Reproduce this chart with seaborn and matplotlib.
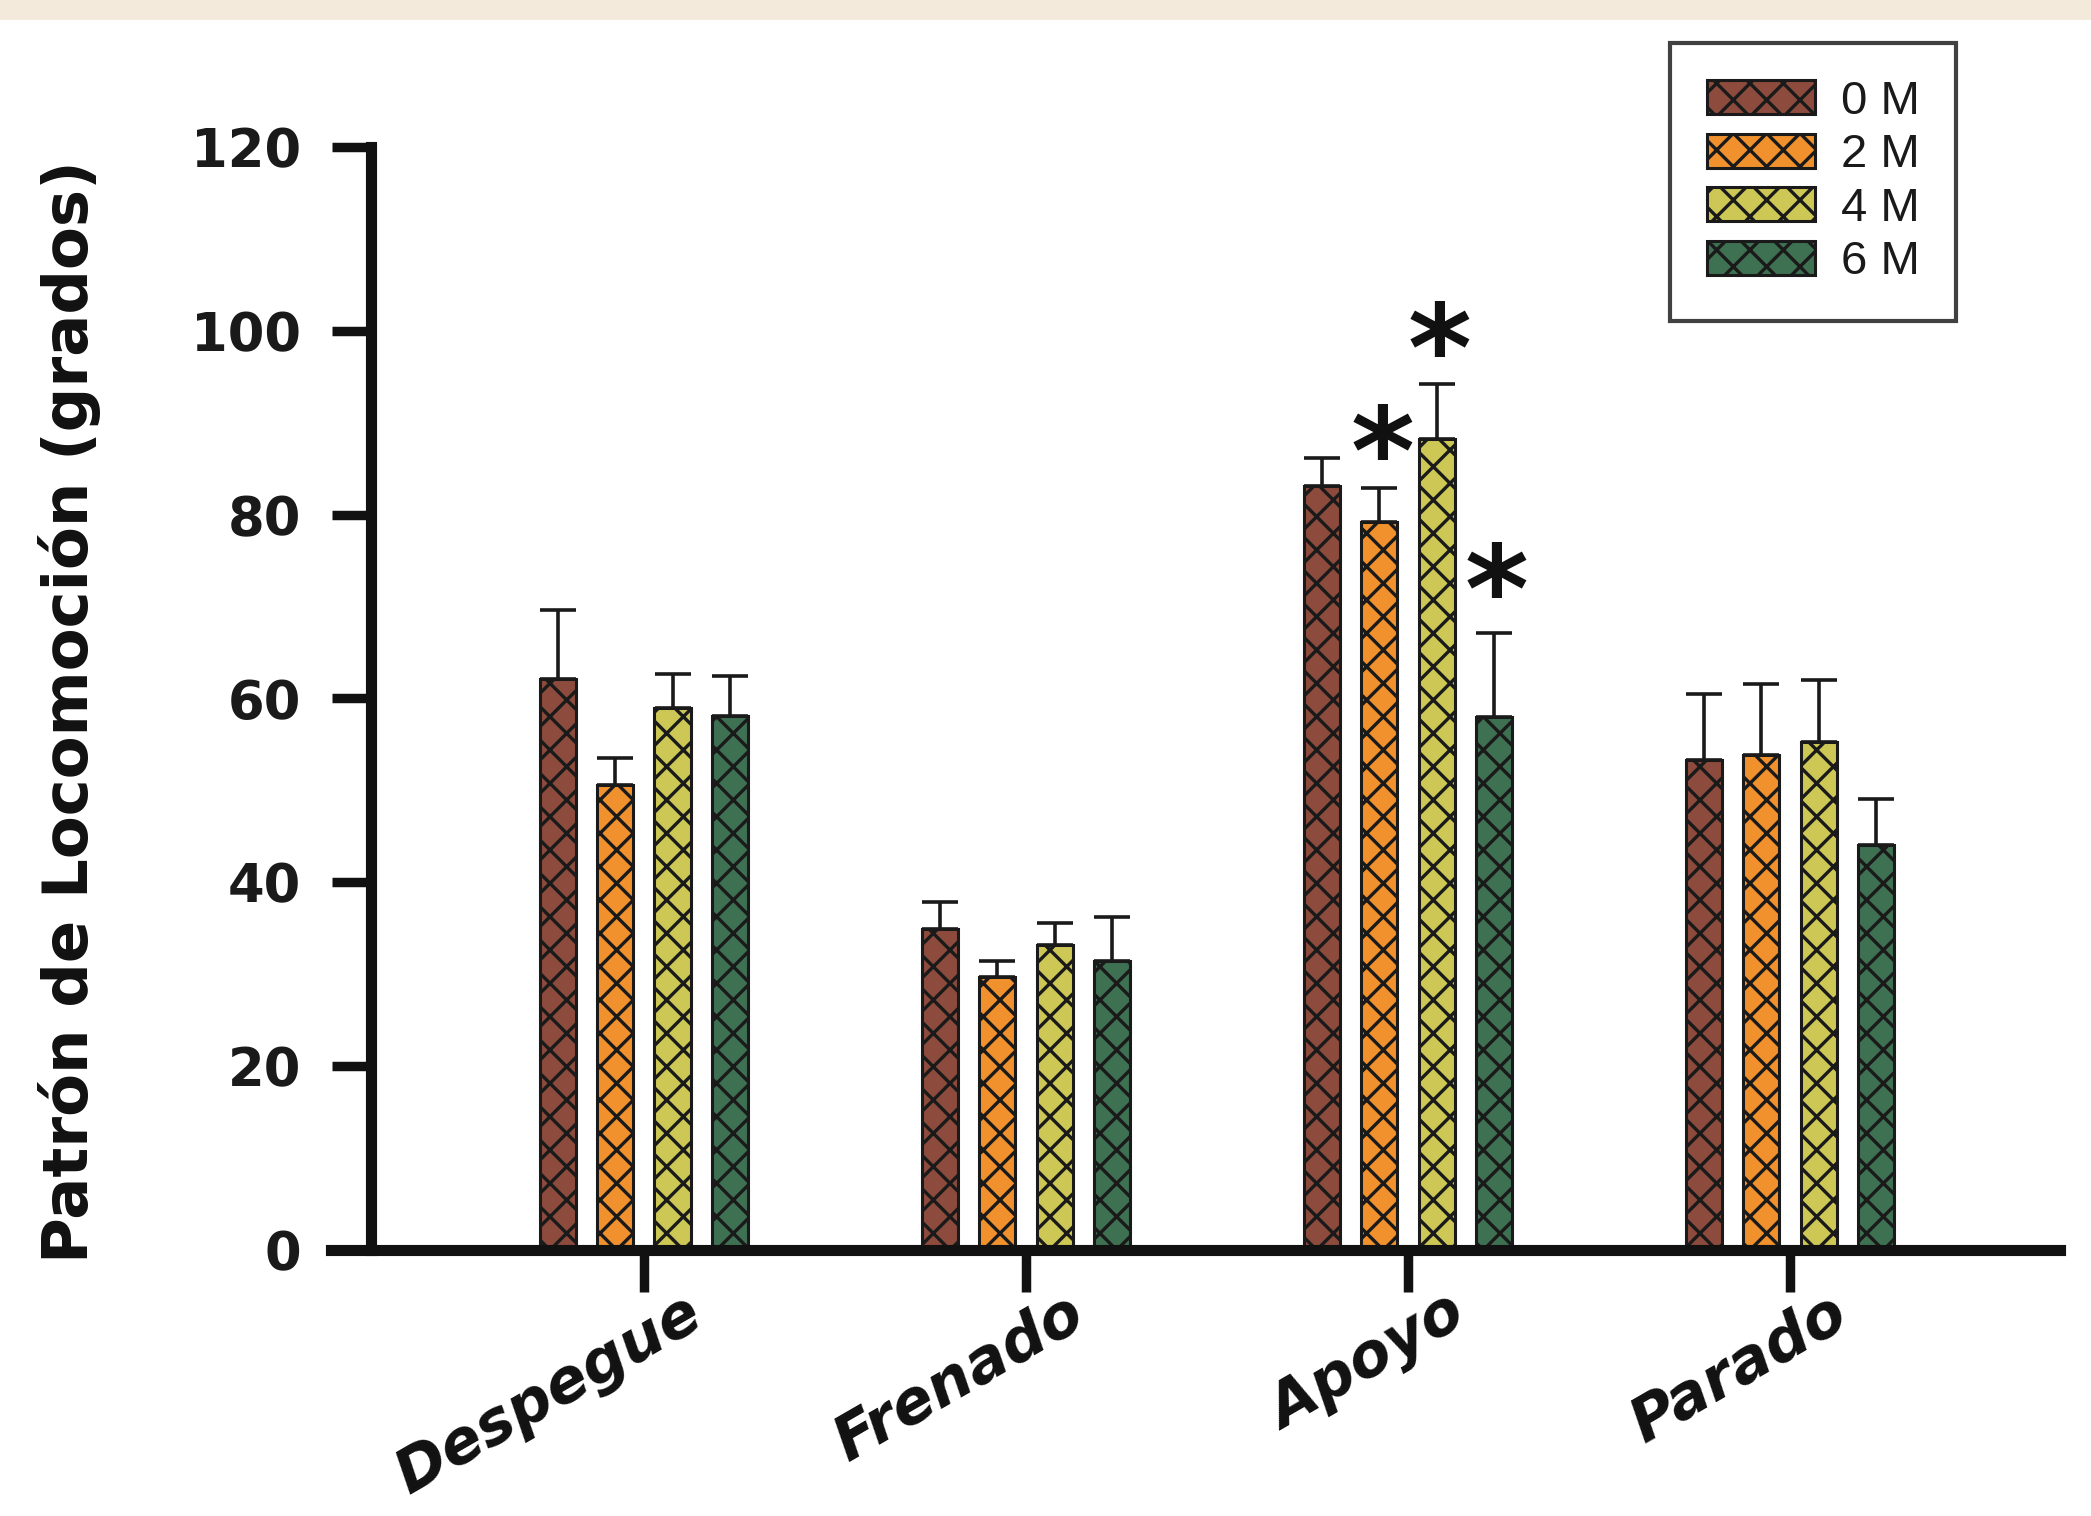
import matplotlib
matplotlib.use("Agg")
import matplotlib.pyplot as plt
import matplotlib.patches as mpatches
from matplotlib.transforms import ScaledTranslation
import pandas as pd
import seaborn as sns

fases = ["Despegue", "Frenado", "Apoyo", "Parado"]
edades = ["0 M", "2 M", "4 M", "6 M"]
colores = ["#8c4b3c", "#f0912d", "#cdc855", "#3e7052"]

# medias por fase, una lista por edad
media_0m = [62.1, 34.9, 83.1, 53.3]
media_2m = [50.6, 29.7, 79.2, 53.8]
media_4m = [59.0, 33.2, 88.2, 55.3]
media_6m = [58.1, 31.4, 58.0, 44.0]

# error (solo hacia arriba)
err_0m = [7.5, 2.9, 3.1, 7.2]
err_2m = [2.9, 1.7, 3.7, 7.8]
err_4m = [3.7, 2.4, 6.0, 6.7]
err_6m = [4.3, 4.8, 9.1, 5.1]

# asteriscos en Apoyo
ast_fase = "Apoyo"
ast_edad = ["2 M", "4 M", "6 M"]
ast_y = [89.6, 100.8, 74.5]

yticks = [0, 20, 40, 60, 80, 100, 120]

medias = [media_0m, media_2m, media_4m, media_6m]
errores = [err_0m, err_2m, err_4m, err_6m]
filas = []
for edad, m in zip(edades, medias):
    for fase, v in zip(fases, m):
        filas.append({"fase": fase, "edad": edad, "valor": v})
df = pd.DataFrame(filas)

sns.set_theme(style="ticks")
plt.rcParams["hatch.linewidth"] = 1.2
plt.rcParams["font.family"] = ["DejaVu Sans"]

fig = plt.figure(figsize=(10.455, 7.58), dpi=200)
fig.patches.append(mpatches.Rectangle((0, 1 - 18 / 1516), 1, 18 / 1516,
                                      transform=fig.transFigure,
                                      color="#f4eadb", zorder=0))
ax = fig.add_axes([0.1583, 0.1755, 0.8269, 0.7276])

sns.barplot(data=df, x="fase", y="valor", hue="edad", order=fases,
            hue_order=edades, palette=colores, saturation=1, width=0.6,
            gap=0.37, errorbar=None, edgecolor="#1a1a1a", linewidth=1.1,
            legend=False, ax=ax)

for cont, err in zip(ax.containers, errores):
    xs = []
    hs = []
    for bar in cont:
        bar.set_hatch("xx")
        xs.append(bar.get_x() + bar.get_width() / 2)
        hs.append(bar.get_height())
    ax.errorbar(xs, hs, yerr=[[0] * len(err), err], fmt="none",
                ecolor="#1a1a1a", elinewidth=1.3, capsize=6.5,
                capthick=1.3, zorder=3)

fs_ast = 44
i_fase = fases.index(ast_fase)
for edad, y in zip(ast_edad, ast_y):
    bar = ax.containers[edades.index(edad)][i_fase]
    x = bar.get_x() + bar.get_width() / 2
    ax.annotate("*", xy=(x, y), xytext=(1, -0.55 * fs_ast),
                textcoords="offset points", ha="center", va="baseline",
                fontsize=fs_ast, fontweight="bold", color="#111111")

ax.set_xlim(-0.819, 3.707)
ax.set_ylim(0, 120)
ax.set_yticks(yticks)
ax.spines["top"].set_visible(False)
ax.spines["right"].set_visible(False)
ax.spines["left"].set_position(("data", -0.715))
for s in ["left", "bottom"]:
    ax.spines[s].set_linewidth(4.0)
    ax.spines[s].set_color("#111111")

ax.tick_params(axis="y", length=14, width=3.4, color="#111111", pad=11,
               labelsize=19)
ax.tick_params(axis="x", length=15, width=3.4, color="#111111", pad=1)
for lbl in ax.get_yticklabels():
    lbl.set_fontweight("bold")
    lbl.set_color("#1a1a1a")

ax.set_xticks(range(len(fases)))
ax.set_xticklabels(fases, rotation=30, ha="right", va="top",
                   rotation_mode="anchor", fontsize=22, fontweight="bold",
                   fontstyle="italic", color="#111111")
offset = ScaledTranslation(14 / 72, 4 / 72, fig.dpi_scale_trans)
for lbl in ax.get_xticklabels():
    lbl.set_transform(lbl.get_transform() + offset)

ax.set_xlabel("")
ax.set_ylabel("Patrón de Locomoción (grados)", fontsize=22.5,
              fontweight="bold", color="#111111", va="center")
ax.yaxis.set_label_coords(-0.151, 0.488)

handles = [mpatches.Patch(facecolor=c, edgecolor="#1a1a1a", hatch="xx",
                          linewidth=1.1, label=e)
           for c, e in zip(colores, edades)]
leg = fig.legend(handles=handles, loc="upper left",
                 bbox_to_anchor=(0.7987, 0.9716), frameon=True,
                 fancybox=False, shadow=False, edgecolor="#111111",
                 borderaxespad=0,
                 prop={"family": "Liberation Sans", "size": 17},
                 handlelength=2.28, handleheight=0.73, labelspacing=0.2,
                 handletextpad=0.55, borderpad=0.78)
leg.get_frame().set_linewidth(1.5)
for t in leg.get_texts():
    t.set_color("#1a1a1a")

fig.savefig("out.png", dpi=200, facecolor="white")
